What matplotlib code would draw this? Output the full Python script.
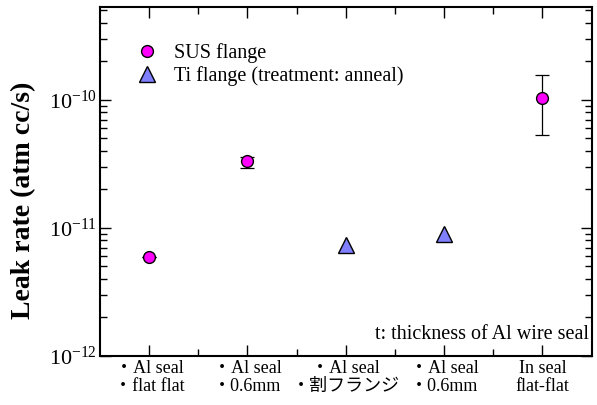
import math
import matplotlib
matplotlib.use("Agg")
import matplotlib.pyplot as plt
from matplotlib.ticker import FixedLocator, NullFormatter, FuncFormatter

plt.rcParams['font.family'] = ['Liberation Serif', 'Noto Sans CJK JP', 'DejaVu Sans']
plt.rcParams['mathtext.fontset'] = 'custom'
plt.rcParams['mathtext.rm'] = 'Liberation Serif'
plt.rcParams['mathtext.it'] = 'Liberation Serif:italic'
plt.rcParams['mathtext.bf'] = 'Liberation Serif:bold'

categories = ["・Al seal\n・flat flat", "・Al seal\n・0.6mm", "・Al seal\n・割フランジ", "・Al seal\n・0.6mm", "In seal\nflat-flat"]
sus_x = [1, 2, 5]
sus_y = [5.9e-12, 3.3e-11, 1.03e-10]
sus_err_lo = [0.0, 0.35e-11, 0.50e-10]
sus_err_hi = [0.0, 0.25e-11, 0.52e-10]
ti_x = [3, 4]
ti_y = [7.4e-12, 8.9e-12]
y_major = [1e-12, 1e-11, 1e-10]
y_minor = [m * 10.0 ** e for e in (-12, -11, -10) for m in range(2, 10)]

fig = plt.figure(figsize=(5.97, 4.05), dpi=100)
ax = fig.add_axes([100/597, 1-356/405, (591.5-100)/597, (356-7)/405])

ax.errorbar(sus_x, sus_y, yerr=[sus_err_lo, sus_err_hi], fmt='none', ecolor='black',
            elinewidth=0.9, capsize=5, capthick=0.9, zorder=2)
ax.plot(sus_x, sus_y, 'o', ms=8.5, mfc='#FF00FF', mec='black', mew=1.0, ls='none', zorder=3,
        label='SUS flange')
ax.plot(ti_x, ti_y, '^', ms=11, mfc='#8080FF', mec='black', mew=1.0, ls='none', zorder=3,
        label='Ti flange (treatment: anneal)')

ax.set_yscale('log')
ax.set_ylim(1e-12, 5.3e-10)
ax.set_xlim(0.5, 5.5)

ax.xaxis.set_major_locator(FixedLocator([1, 2, 3, 4, 5]))
ax.xaxis.set_minor_locator(FixedLocator([1.5, 2.5, 3.5, 4.5]))
ax.set_xticklabels(categories, fontsize=13, linespacing=1.1)
ax.yaxis.set_major_locator(FixedLocator(y_major))
ax.yaxis.set_minor_locator(FixedLocator(y_minor))
ax.yaxis.set_minor_formatter(NullFormatter())

def fmt(v, pos):
    e = int(round(math.log10(v)))
    return r'$\mathregular{10^{%d}}$' % e
ax.yaxis.set_major_formatter(FuncFormatter(fmt))

ax.tick_params(axis='both', which='both', direction='in', top=True, right=True, width=1.0)
ax.tick_params(axis='both', which='major', length=8)
ax.tick_params(axis='both', which='minor', length=5)
ax.tick_params(axis='y', which='major', labelsize=16, pad=2)
ax.tick_params(axis='x', which='major', pad=3)
for s in ax.spines.values():
    s.set_linewidth(1.5)

ax.set_ylabel('Leak rate (atm cc/s)', fontsize=20, fontweight='bold')
ax.yaxis.set_label_coords(-0.13, 0.445)

leg = ax.legend(loc='upper left', bbox_to_anchor=(0.058, 0.92), frameon=False, fontsize=14.5,
                handletextpad=0.85, labelspacing=0.15, borderaxespad=0.0, handlelength=1.0)

ax.text(0.995, 0.035, 't: thickness of Al wire seal', transform=ax.transAxes, ha='right', va='bottom',
        fontsize=14.5)

fig.savefig('out.png', dpi=100)
